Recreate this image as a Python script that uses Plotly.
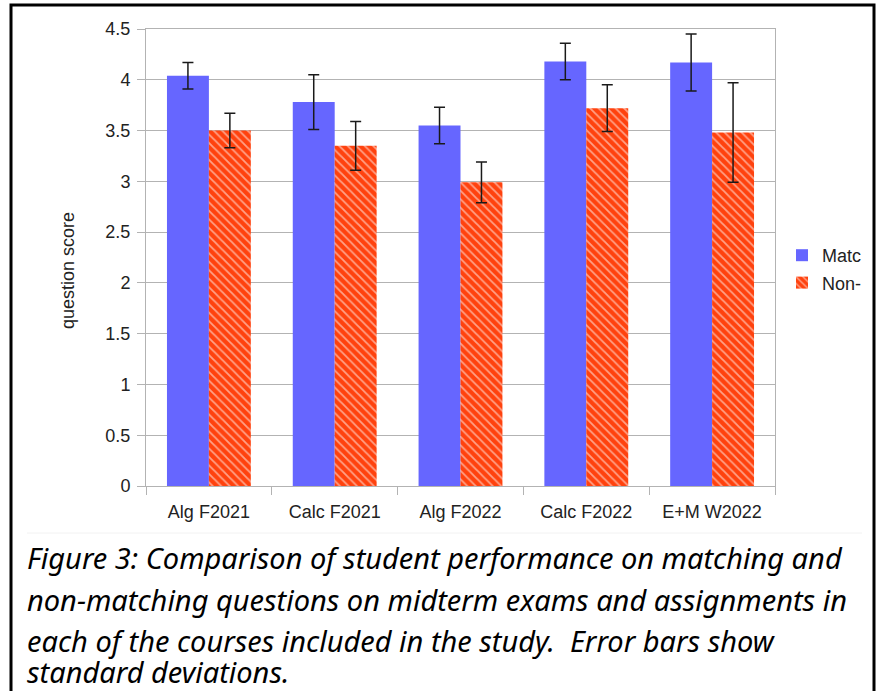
import plotly.graph_objects as go

categories = ["Alg F2021", "Calc F2021", "Alg F2022", "Calc F2022", "E+M W2022"]
matching = [4.04, 3.78, 3.55, 4.18, 4.17]
matching_sd = [0.13, 0.27, 0.18, 0.18, 0.28]
nonmatching = [3.50, 3.35, 2.99, 3.72, 3.48]
nonmatching_sd = [0.17, 0.24, 0.20, 0.23, 0.49]
legend_names = ["Matc", "Non-"]
y_tickvals = [0, 0.5, 1, 1.5, 2, 2.5, 3, 3.5, 4, 4.5]
y_ticktext = ["0", "0.5", "1", "1.5", "2", "2.5", "3", "3.5", "4", "4.5"]
y_title = "question score"
caption_lines = [
    "Figure 3: Comparison of student performance on matching and",
    "non-matching questions on midterm exams and assignments in",
    "each of the courses included in the study.\u00a0 Error bars show",
    "standard deviations.",
]

W, H = 879, 691
L, R, T, B = 146, 775, 29, 486

def px(x):
    return (x - L) / (R - L)

def py(y):
    return (B - y) / (B - T)

fig = go.Figure()
fig.add_trace(go.Bar(
    x=categories, y=matching, name=legend_names[0], legendgroup="a",
    marker=dict(color="#6666ff", line=dict(width=0)),
    error_y=dict(type="data", array=matching_sd, visible=True,
                 color="#1a1a1a", thickness=1.5, width=5.5),
))
fig.add_trace(go.Bar(
    x=categories, y=nonmatching, name=legend_names[1], legendgroup="b",
    marker=dict(color="#ff420e", line=dict(width=0),
                pattern=dict(shape="\\", fgcolor="#ffffff", bgcolor="#ff420e",
                             size=6, solidity=0.3)),
    error_y=dict(type="data", array=nonmatching_sd, visible=True,
                 color="#1a1a1a", thickness=1.5, width=5.5),
))

fig.update_layout(
    width=W, height=H,
    margin=dict(l=L, r=W - R, t=T, b=H - B, pad=0, autoexpand=False),
    paper_bgcolor="white", plot_bgcolor="white",
    barmode="group", bargap=1/3, bargroupgap=0,
    font=dict(family="Liberation Sans, Arial, sans-serif", size=18, color="#222222"),
    showlegend=True,
    legend=dict(x=px(782), y=py(237), xanchor="left", yanchor="top",
                font=dict(size=18, color="#222222"), bgcolor="rgba(0,0,0,0)",
                itemwidth=30, tracegroupgap=1, traceorder="grouped"),
)
fig.update_xaxes(
    type="category", showgrid=False, showline=True, linecolor="#b3b3b3", linewidth=1,
    mirror=True, ticks="outside", tickson="boundaries", ticklen=8, tickcolor="#b3b3b3",
    tickfont=dict(size=18, color="#222222"), ticklabelstandoff=9, automargin=False,
)
fig.update_yaxes(
    range=[0, 4.5], tickmode="array", tickvals=y_tickvals, ticktext=y_ticktext,
    showgrid=True, gridcolor="#b3b3b3",
    gridwidth=1, showline=True, linecolor="#b3b3b3", linewidth=1, mirror=True,
    ticks="outside", ticklen=8, tickcolor="#b3b3b3", zeroline=False,
    tickfont=dict(size=18, color="#222222"), ticklabelstandoff=3, automargin=False,
)

# y-axis title
fig.add_annotation(text=y_title, xref="paper", yref="paper", x=px(68), y=py(271),
                   textangle=-90, showarrow=False, xanchor="center", yanchor="middle",
                   font=dict(size=18, color="#222222"))

# figure frame
fig.add_shape(type="rect", xref="paper", yref="paper",
              x0=px(11), x1=px(874), y0=py(5), y1=py(700),
              line=dict(color="black", width=3), fillcolor="rgba(0,0,0,0)")
# faint separator
fig.add_shape(type="line", xref="paper", yref="paper",
              x0=px(27), x1=px(862), y0=py(533), y1=py(533),
              line=dict(color="#f2f2f2", width=1))

caption_y = [557, 599, 640, 671]
for text, yy in zip(caption_lines, caption_y):
    fig.add_annotation(
        text=text, xref="paper", yref="paper", x=px(25), y=py(yy),
        xanchor="left", yanchor="middle", showarrow=False,
        font=dict(family="Noto Sans, sans-serif", size=29,
                  color="#000000", style="italic"),
    )

fig.write_html("out.html", config={"displayModeBar": False},
               post_script="document.body.style.margin='0px';")
